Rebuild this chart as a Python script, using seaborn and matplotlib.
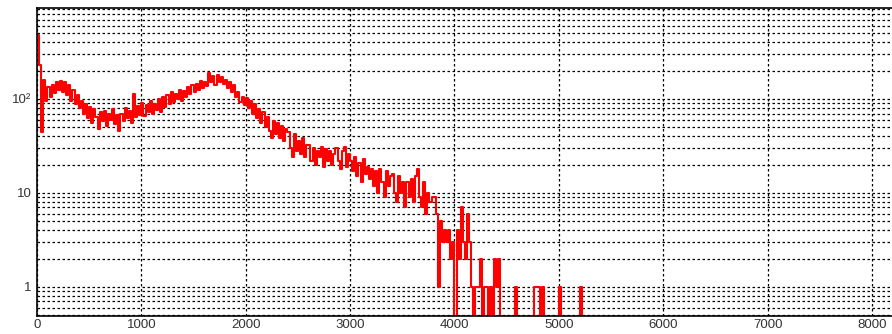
import matplotlib
matplotlib.use("Agg")
import matplotlib.pyplot as plt
import matplotlib.ticker as mticker
import seaborn as sns
import numpy as np
import pandas as pd

# histogram counts, 20 units per bin starting at 0
bin_width = 20
counts = [
    480, 230, 45, 160, 95, 135, 105, 140, 115, 150,
    125, 155, 118, 150, 110, 140, 96, 125, 88, 110,
    80, 95, 70, 88, 62, 82, 55, 78, 64, 48,
    72, 58, 75, 52, 70, 60, 78, 54, 68, 46,
    70, 58, 80, 62, 74, 56, 112, 64, 84, 68,
    90, 66, 86, 72, 95, 70, 88, 76, 100, 72,
    104, 82, 110, 88, 118, 92, 112, 100, 126, 96,
    122, 104, 134, 112, 140, 118, 146, 124, 156, 132,
    150, 138, 190, 150, 175, 140, 182, 150, 172, 145,
    160, 130, 150, 118, 140, 104, 120, 92, 106, 86,
    102, 80, 96, 70, 88, 62, 78, 56, 72, 50,
    64, 46, 38, 58, 42, 55, 38, 52, 36, 48,
    44, 30, 24, 42, 28, 36, 26, 38, 24, 32,
    32, 22, 30, 20, 28, 24, 31, 19, 29, 22,
    28, 20, 26, 30, 22, 18, 28, 31, 19, 26,
    22, 17, 24, 15, 21, 13, 23, 16, 19, 14,
    18, 12, 17, 10, 18, 13, 9, 17, 12, 15,
    16, 10, 8, 15, 10, 13, 7, 13, 9, 14,
    8, 15, 18, 9, 7, 13, 6, 10, 8, 9,
    9, 6, 1, 5, 3, 4, 3, 4, 2, 3,
    0, 4, 2, 7, 3, 2, 6, 3, 1, 0,
    1, 1, 2, 0, 1, 1, 0, 1, 0, 2,
    1, 2, 0, 0, 0, 0, 0, 0, 0, 1,
    0, 0, 0, 0, 0, 0, 0, 0, 1, 1,
    1, 0, 1, 0, 0, 0, 0, 0, 0, 0,
    1, 0, 0, 0, 0, 0, 0, 0, 0, 0,
    1, 0,
]
x_max = 8192
x_ticks = [0, 1000, 2000, 3000, 4000, 5000, 6000, 7000, 8000]
x_tick_labels = ["0", "1000", "2000", "3000", "4000", "5000", "6000", "7000", "8000"]
y_ticks = [1, 10, 100]
y_tick_labels = ["1", "10", "10²"]

edges = np.arange(len(counts) + 1) * bin_width
df = pd.DataFrame({"x": edges, "n": counts + [counts[-1]]})

sns.set_style("white")
plt.rcParams["font.family"] = ["Liberation Sans", "DejaVu Sans"]

fig = plt.figure(figsize=(8.92, 3.34), dpi=100)
ax = fig.add_axes([37 / 892, 1 - 316 / 334, 1 - 37 / 892, (316 - 8) / 334])

sns.lineplot(data=df, x="x", y="n", drawstyle="steps-post", estimator=None,
             color="#ff0000", linewidth=1.5, ax=ax)

ax.set_yscale("log")
ax.set_xlim(0, x_max)
ax.set_ylim(0.49, 930)

ax.xaxis.set_major_locator(mticker.FixedLocator(x_ticks))
ax.xaxis.set_major_formatter(mticker.FixedFormatter(x_tick_labels))
ax.xaxis.set_minor_locator(mticker.MultipleLocator(200))
ax.yaxis.set_major_locator(mticker.FixedLocator(y_ticks))
ax.yaxis.set_major_formatter(mticker.FixedFormatter(y_tick_labels))
ax.yaxis.set_minor_locator(mticker.LogLocator(base=10, subs=np.arange(2, 10)))
ax.yaxis.set_minor_formatter(mticker.NullFormatter())

grid_kw = dict(color="black", linestyle=(0, (2, 2)), linewidth=0.9)
ax.grid(True, which="major", axis="x", **grid_kw)
ax.grid(True, which="both", axis="y", **grid_kw)
ax.set_axisbelow(True)

ax.tick_params(axis="y", which="major", direction="in", length=19, width=1.2,
               labelsize=9.5, labelcolor="#333333", pad=4)
ax.tick_params(axis="y", which="minor", direction="in", length=9.5, width=1.2)
ax.tick_params(axis="x", which="major", direction="in", length=7, width=1.0,
               labelsize=9.5, labelcolor="#333333", pad=2)
ax.tick_params(axis="x", which="minor", direction="in", length=3.5, width=1.0)

for side in ["left", "bottom", "top"]:
    ax.spines[side].set_color("black")
    ax.spines[side].set_linewidth(1.2)
ax.spines["right"].set_visible(False)
ax.set_xlabel("")
ax.set_ylabel("")

fig.savefig("out.png", dpi=100)
